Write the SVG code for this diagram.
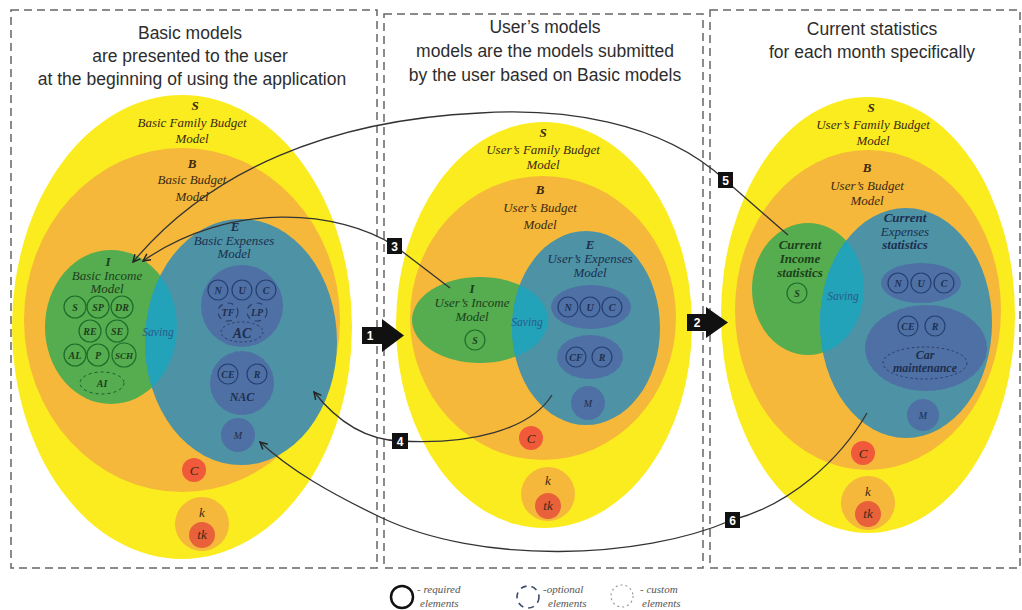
<svg xmlns="http://www.w3.org/2000/svg" width="1022" height="610" viewBox="0 0 1022 610">
<style>
.panel{fill:none;stroke:#666;stroke-width:1.5;stroke-dasharray:8 5}
.title{font-family:"Liberation Sans",Arial,sans-serif;font-size:17.5px;fill:#2d2d2d;text-anchor:middle}
.lbl{font-family:"Liberation Serif","Times New Roman",serif;font-style:italic;font-size:13px;text-anchor:middle;fill:#3b2a12}
.b{font-weight:bold}
.g{fill:#1c3f1c}
.n{fill:#1d2f4f}
.sv{font-size:11.5px;fill:#2a5a8a}
.sm{font-family:"Liberation Serif","Times New Roman",serif;font-style:italic;font-weight:bold;font-size:10px;text-anchor:middle}
.yel{fill:#fbec1f}
.org{fill:#f5b83a}
.grn{fill:#55ad4f}
.blu{fill:#4d92a5}
.ovl{fill:#22a3b9}
.dk{fill:#4f70a5}
.red{fill:#f05a3a}
.tk{fill:#e8613a}
.rg{fill:none;stroke:#1e6b2a;stroke-width:1.2}
.rb{fill:none;stroke:#233f70;stroke-width:1.2}
.opt{fill:none;stroke:#2a3f66;stroke-width:1.2;stroke-dasharray:6 5}
.cus{fill:none;stroke:#2a3f66;stroke-width:1;stroke-dasharray:2.5 2.5}
.cusg{fill:none;stroke:#1e5b2a;stroke-width:1;stroke-dasharray:3 3}
.scal{fill:#4f70a5;stroke:#4f70a5;stroke-width:4;stroke-dasharray:4 3;stroke-linecap:round}
.con{fill:none;stroke:#333;stroke-width:1.3}
.numbox{fill:#111}
.num{font-family:"Liberation Sans",Arial,sans-serif;font-weight:bold;font-size:12px;fill:#fff;text-anchor:middle}
.leg{font-family:"Liberation Serif","Times New Roman",serif;font-style:italic;font-size:11px;fill:#555}
</style>
<defs>
<marker id="ah" viewBox="0 0 10 10" refX="9" refY="5" markerWidth="9" markerHeight="9" orient="auto" markerUnits="userSpaceOnUse">
<path d="M1,1 L9,5 L1,9" fill="none" stroke="#222" stroke-width="1.6"/>
</marker>
<clipPath id="cl1"><ellipse cx="241" cy="342" rx="96" ry="123"/></clipPath>
<clipPath id="cl2"><ellipse cx="586" cy="328" rx="74" ry="97"/></clipPath>
<clipPath id="cl3"><ellipse cx="906" cy="323" rx="86" ry="115"/></clipPath>
</defs>
<rect width="1022" height="610" fill="#fff"/>

<g id="panels">
<rect class="panel" x="11" y="10" width="366" height="558"/>
<rect class="panel" x="384" y="14" width="319" height="554"/>
<rect class="panel" x="710" y="10" width="310" height="558"/>
</g>

<g id="titles">
<text class="title" x="190" y="39">Basic models</text>
<text class="title" x="190" y="62">are presented to the user</text>
<text class="title" x="192" y="85">at the beginning of using the application</text>
<text class="title" x="545" y="33">User’s models</text>
<text class="title" x="545" y="57">models are the models submitted</text>
<text class="title" x="545" y="81">by the user based on Basic models</text>
<text class="title" x="872" y="35">Current statistics</text>
<text class="title" x="872" y="58">for each month specifically</text>
</g>

<!-- LEFT PANEL -->
<g id="basic-family">
<ellipse class="yel" cx="182" cy="327" rx="170" ry="232"/>
<text class="lbl b" x="195" y="110">S</text>
<text class="lbl" x="192" y="127">Basic Family Budget</text>
<text class="lbl" x="192" y="143">Model</text>
</g>
<g id="basic-budget">
<ellipse class="org" cx="182" cy="320" rx="158" ry="172"/>
<text class="lbl b" x="192" y="168">B</text>
<text class="lbl" x="192" y="184">Basic Budget</text>
<text class="lbl" x="192" y="201">Model</text>
</g>
<g id="basic-income">
<ellipse class="grn" cx="111" cy="327" rx="66" ry="77"/>
<text class="lbl b g" x="108" y="266">I</text>
<text class="lbl g" x="107" y="280">Basic Income</text>
<text class="lbl g" x="107" y="293">Model</text>
<circle class="rg" cx="75" cy="307" r="11"/><text class="sm g" x="75" y="311">S</text>
<circle class="rg" cx="98" cy="307" r="11"/><text class="sm g" x="98" y="311">SP</text>
<circle class="rg" cx="122" cy="307" r="11"/><text class="sm g" x="122" y="311">DR</text>
<circle class="rg" cx="90" cy="331" r="11"/><text class="sm g" x="90" y="335">RE</text>
<circle class="rg" cx="117" cy="331" r="11"/><text class="sm g" x="117" y="335">SE</text>
<circle class="rg" cx="75" cy="355" r="11"/><text class="sm g" x="75" y="359">AL</text>
<circle class="rg" cx="98" cy="355" r="11"/><text class="sm g" x="98" y="359">P</text>
<circle class="rg" cx="124" cy="355" r="12"/><text class="sm g" x="124" y="359" style="font-size:9px">SCH</text>
<ellipse class="cusg" cx="102" cy="383" rx="22" ry="11"/><text class="sm g" x="102" y="387">AI</text>
</g>
<g id="basic-expenses">
<ellipse class="blu" cx="241" cy="342" rx="96" ry="123"/>
<ellipse class="ovl" cx="111" cy="327" rx="66" ry="77" clip-path="url(#cl1)"/>
<text class="lbl sv" x="158" y="336">Saving</text>
<text class="lbl b n" x="235" y="231">E</text>
<text class="lbl n" x="234" y="245">Basic Expenses</text>
<text class="lbl n" x="234" y="258">Model</text>
<circle class="dk" cx="242" cy="306" r="41"/>
<circle class="rb" cx="218" cy="290" r="10"/><text class="sm n" x="218" y="294">N</text>
<circle class="rb" cx="242" cy="290" r="10"/><text class="sm n" x="242" y="294">U</text>
<circle class="rb" cx="266" cy="290" r="10"/><text class="sm n" x="266" y="294">C</text>
<ellipse class="opt" cx="228" cy="312" rx="10" ry="9"/><text class="sm n" x="228" y="316">TF</text>
<ellipse class="opt" cx="257" cy="312" rx="10" ry="9"/><text class="sm n" x="257" y="316">LP</text>
<ellipse class="cus" cx="242" cy="332" rx="21" ry="10"/>
<text class="lbl b n" x="242" y="338" style="font-size:14px">AC</text>
<circle class="scal" cx="242" cy="383" r="30"/>
<circle class="rb" cx="228" cy="374" r="10"/><text class="sm n" x="228" y="378">CE</text>
<circle class="rb" cx="257" cy="374" r="10"/><text class="sm n" x="257" y="378">R</text>
<text class="lbl b n" x="242" y="401" style="font-size:12px">NAC</text>
<circle class="dk" cx="238" cy="435" r="17"/><text class="lbl n" x="238" y="439" style="font-size:10px">M</text>
</g>
<g id="basic-c"><circle class="red" cx="194" cy="470" r="12"/><text class="lbl" x="194" y="475">C</text></g>
<g id="basic-k">
<circle class="org" cx="202" cy="524" r="27"/>
<text class="lbl" x="202" y="517">k</text>
<circle class="tk" cx="202" cy="535" r="13"/><text class="lbl" x="202" y="539">tk</text>
</g>

<!-- MIDDLE PANEL -->
<g id="user-family">
<ellipse class="yel" cx="544" cy="325" rx="148" ry="203"/>
<text class="lbl b" x="543" y="137">S</text>
<text class="lbl" x="543" y="154">User’s Family Budget</text>
<text class="lbl" x="543" y="169">Model</text>
</g>
<g id="user-budget">
<ellipse class="org" cx="543" cy="318" rx="133" ry="142"/>
<text class="lbl b" x="540" y="194">B</text>
<text class="lbl" x="540" y="212">User’s Budget</text>
<text class="lbl" x="540" y="229">Model</text>
</g>
<g id="user-income">
<ellipse class="grn" cx="480" cy="320" rx="68" ry="43"/>
<text class="lbl b g" x="472" y="293">I</text>
<text class="lbl g" x="472" y="307">User’s Income</text>
<text class="lbl g" x="472" y="321">Model</text>
<circle class="rg" cx="475" cy="340" r="10"/><text class="sm g" x="475" y="344">S</text>
</g>
<g id="user-expenses">
<ellipse class="blu" cx="586" cy="328" rx="74" ry="97"/>
<ellipse class="ovl" cx="480" cy="320" rx="68" ry="43" clip-path="url(#cl2)"/>
<text class="lbl sv" x="527" y="326">Saving</text>
<text class="lbl b n" x="590" y="249">E</text>
<text class="lbl n" x="590" y="263">User’s Expenses</text>
<text class="lbl n" x="590" y="277">Model</text>
<ellipse class="dk" cx="591" cy="307" rx="40" ry="22"/>
<circle class="rb" cx="568" cy="307" r="10"/><text class="sm n" x="568" y="311">N</text>
<circle class="rb" cx="590" cy="307" r="10"/><text class="sm n" x="590" y="311">U</text>
<circle class="rb" cx="612" cy="307" r="10"/><text class="sm n" x="612" y="311">C</text>
<ellipse class="scal" cx="590" cy="357" rx="31" ry="20"/>
<circle class="rb" cx="576" cy="357" r="10"/><text class="sm n" x="576" y="361">CF</text>
<circle class="rb" cx="602" cy="357" r="10"/><text class="sm n" x="602" y="361">R</text>
<circle class="dk" cx="588" cy="403" r="17"/><text class="lbl n" x="588" y="407" style="font-size:10px">M</text>
</g>
<g id="user-c"><circle class="red" cx="531" cy="438" r="12"/><text class="lbl" x="531" y="443">C</text></g>
<g id="user-k">
<circle class="org" cx="548" cy="494" r="27"/>
<text class="lbl" x="548" y="485">k</text>
<circle class="tk" cx="548" cy="506" r="13"/><text class="lbl" x="548" y="510">tk</text>
</g>

<!-- RIGHT PANEL -->
<g id="stat-family">
<ellipse class="yel" cx="868" cy="315" rx="147" ry="218"/>
<text class="lbl b" x="871" y="112">S</text>
<text class="lbl" x="873" y="129">User’s Family Budget</text>
<text class="lbl" x="873" y="145">Model</text>
</g>
<g id="stat-budget">
<ellipse class="org" cx="868" cy="310" rx="133" ry="160"/>
<text class="lbl b" x="867" y="172">B</text>
<text class="lbl" x="867" y="190">User’s Budget</text>
<text class="lbl" x="867" y="205">Model</text>
</g>
<g id="stat-income">
<ellipse class="grn" cx="808" cy="289" rx="56" ry="66"/>
<text class="lbl b g" x="800" y="249">Current</text>
<text class="lbl b g" x="800" y="263">Income</text>
<text class="lbl b g" x="800" y="277">statistics</text>
<circle class="rg" cx="797" cy="293" r="10"/><text class="sm g" x="797" y="297">S</text>
</g>
<g id="stat-expenses">
<ellipse class="blu" cx="906" cy="323" rx="86" ry="115"/>
<ellipse class="ovl" cx="808" cy="289" rx="56" ry="66" clip-path="url(#cl3)"/>
<text class="lbl sv" x="843" y="300">Saving</text>
<text class="lbl b n" x="905" y="222">Current</text>
<text class="lbl n" x="905" y="236">Expenses</text>
<text class="lbl b n" x="905" y="249">statistics</text>
<ellipse class="dk" cx="921" cy="283" rx="40" ry="20"/>
<circle class="rb" cx="898" cy="283" r="10"/><text class="sm n" x="898" y="287">N</text>
<circle class="rb" cx="921" cy="283" r="10"/><text class="sm n" x="921" y="287">U</text>
<circle class="rb" cx="944" cy="283" r="10"/><text class="sm n" x="944" y="287">C</text>
<ellipse class="scal" cx="926" cy="348" rx="59" ry="41"/>
<circle class="rb" cx="908" cy="326" r="10"/><text class="sm n" x="908" y="330">CE</text>
<circle class="rb" cx="935" cy="326" r="10"/><text class="sm n" x="935" y="330">R</text>
<ellipse class="cus" cx="925" cy="363" rx="42" ry="16"/>
<text class="lbl b n" x="925" y="359" style="font-size:12px">Car</text>
<text class="lbl b n" x="925" y="372" style="font-size:12px">maintenance</text>
<circle class="dk" cx="923" cy="415" r="16"/><text class="lbl n" x="923" y="419" style="font-size:10px">M</text>
</g>
<g id="stat-c"><circle class="red" cx="863" cy="453" r="12"/><text class="lbl" x="863" y="458">C</text></g>
<g id="stat-k">
<circle class="org" cx="868" cy="503" r="27"/>
<text class="lbl" x="868" y="496">k</text>
<circle class="tk" cx="868" cy="514" r="13"/><text class="lbl" x="868" y="518">tk</text>
</g>

<!-- CONNECTORS -->
<g id="connectors">
<path class="con" d="M450,288 L395,246"/>
<path class="con" marker-end="url(#ah)" d="M395,246 C340,210 230,200 143,261"/>
<path class="con" d="M788,235 L725,180"/>
<path class="con" marker-end="url(#ah)" d="M725,180 C660,120 560,108 480,113 C330,120 210,170 133,262"/>
<path class="con" marker-end="url(#ah)" d="M552,395 C530,430 470,445 400,441 C370,440 340,425 314,392"/>
<path class="con" marker-end="url(#ah)" d="M867,413 C840,460 790,505 732,520 C640,560 480,565 380,517 C330,493 290,470 260,442"/>
<g id="arrow1">
<rect class="numbox" x="362" y="327" width="22" height="17"/>
<polygon class="numbox" points="382,319 404,335.5 382,352"/>
<text class="num" x="370" y="340">1</text>
</g>
<g id="arrow2">
<rect class="numbox" x="687" y="314" width="21" height="17"/>
<polygon class="numbox" points="706,307 728,322.5 706,338"/>
<text class="num" x="697" y="327">2</text>
</g>
<g id="n3"><rect class="numbox" x="387" y="238" width="15" height="16"/><text class="num" x="394.5" y="250.5">3</text></g>
<g id="n4"><rect class="numbox" x="392" y="433" width="16" height="16"/><text class="num" x="400" y="445.5">4</text></g>
<g id="n5"><rect class="numbox" x="718" y="172" width="15" height="16"/><text class="num" x="725.5" y="184.5">5</text></g>
<g id="n6"><rect class="numbox" x="725" y="512" width="15" height="16"/><text class="num" x="732.5" y="524.5">6</text></g>
</g>

<!-- LEGEND -->
<g id="legend">
<circle cx="402" cy="597" r="11" fill="none" stroke="#111" stroke-width="2.5"/>
<text class="leg" x="417" y="593">- required</text>
<text class="leg" x="420" y="607">elements</text>
<circle cx="528" cy="597" r="11" fill="none" stroke="#3a4a6a" stroke-width="1.6" stroke-dasharray="6 5"/>
<text class="leg" x="543" y="593">-optional</text>
<text class="leg" x="548" y="607">elements</text>
<circle cx="622" cy="596" r="11" fill="none" stroke="#999" stroke-width="1.2" stroke-dasharray="2 3"/>
<text class="leg" x="640" y="593">- custom</text>
<text class="leg" x="642" y="607">elements</text>
</g>
</svg>
